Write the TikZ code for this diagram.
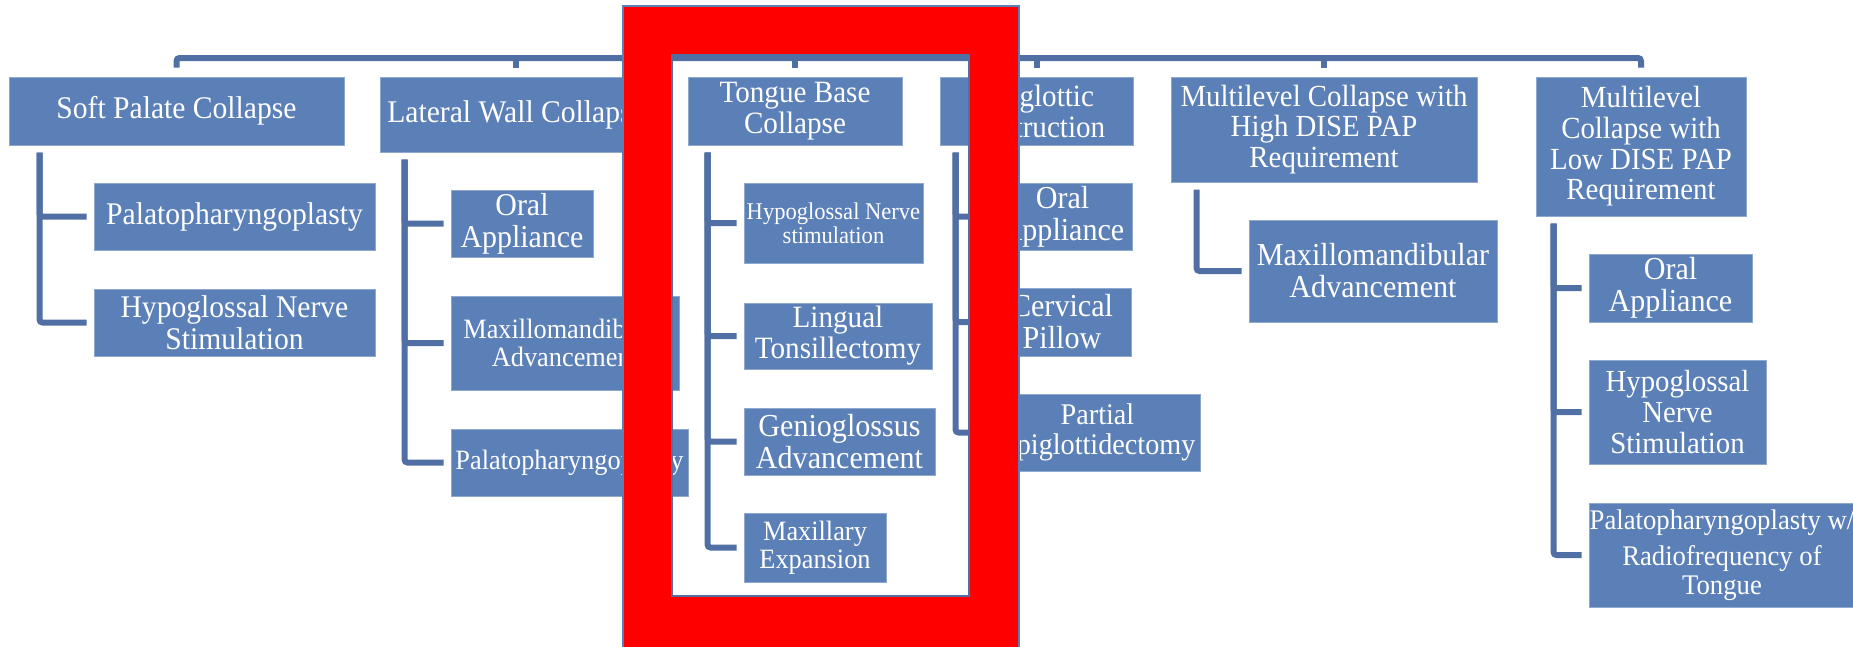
\documentclass[tikz,border=0pt]{standalone}
\usepackage{fontspec}
\setmainfont{Liberation Serif}[FakeStretch=0.94]
\definecolor{boxfill}{HTML}{5B7FB7}
\definecolor{boxedge}{HTML}{8FA8D0}
\definecolor{linecol}{HTML}{4F6FA5}
\definecolor{frameedge}{HTML}{5B7FB7}
\tikzset{
  box/.style={draw=boxedge, line width=1pt, fill=boxfill, text=white, align=center, inner sep=0pt},
  tsz/.style={font=\fontsize{#1}{#1}\selectfont},
  conn/.style={draw=linecol, line width=6pt, rounded corners=3pt},
  kid/.style={conn, shorten <=7pt, shorten >=7pt},
}
\begin{document}
\begin{tikzpicture}[x=1pt,y=-1pt]
\useasboundingbox (0,0) rectangle (1853,646);
\clip (0,0) rectangle (1853,646);
% level 1
\node[box, tsz=31.5, minimum width=335, minimum height=68] (A) at (176.5,111) {Soft Palate Collapse};
\node[box, tsz=31.5, minimum width=272, minimum height=75] (B) at (516,114.5) {Lateral Wall Collapse};
\node[box, tsz=31, minimum width=214, minimum height=68] (C) at (795,111) {Tongue Base\\Collapse};
\node[box, tsz=31, minimum width=193, minimum height=68] (D) at (1036.5,111) {Epiglottic\\Obstruction};
\node[box, tsz=30.7, minimum width=306, minimum height=105] (E) at (1324,129.5) {Multilevel Collapse with\\High DISE PAP\\Requirement};
\node[box, tsz=30.7, minimum width=210, minimum height=139] (F) at (1641,146.5) {Multilevel\\Collapse with\\Low DISE PAP\\Requirement};
% children
\node[box, tsz=31.5, minimum width=281, minimum height=67] (A1) at (234.5,216.5) {Palatopharyngoplasty};
\node[box, tsz=31.5, minimum width=281, minimum height=67] (A2) at (234.5,322.5) {Hypoglossal Nerve\\Stimulation};
\node[box, tsz=31.8, minimum width=142, minimum height=67] (B1) at (522,223.5) {Oral\\Appliance};
\node[box, tsz=28, minimum width=228, minimum height=94] (B2) at (565,343) {Maxillomandibular\\Advancement};
\node[box, tsz=28, minimum width=237, minimum height=67] (B3) at (569.5,462.5) {Palatopharyngoplasty};
\node[box, tsz=24, minimum width=179, minimum height=80] (C1) at (833.5,223) {Hypoglossal Nerve\\stimulation};
\node[box, tsz=31, minimum width=188, minimum height=66] (C2) at (838,336) {Lingual\\Tonsillectomy};
\node[box, tsz=32, minimum width=191, minimum height=67] (C3) at (839.5,441.5) {Genioglossus\\Advancement};
\node[box, tsz=28, minimum width=142, minimum height=69] (C4) at (815,547.5) {Maxillary\\Expansion};
\node[box, tsz=32, minimum width=139, minimum height=67] (D1) at (1062.5,216.5) {Oral\\Appliance};
\node[box, tsz=32, minimum width=138, minimum height=68] (D2) at (1062,322) {Cervical\\Pillow};
\node[box, tsz=30, minimum width=205, minimum height=77] (D3) at (1097.5,432.5) {Partial\\Epiglottidectomy};
\node[box, tsz=32, minimum width=248, minimum height=102] (E1) at (1373,271) {Maxillomandibular\\Advancement};
\node[box, tsz=32, minimum width=163, minimum height=68] (F1) at (1670.5,288) {Oral\\Appliance};
\node[box, tsz=30.6, minimum width=177, minimum height=104] (F2) at (1677.5,412) {Hypoglossal\\Nerve\\Stimulation};
\node[box, tsz=28.4, minimum width=266, minimum height=104] (F3) at (1722,555) {Palatopharyngoplasty w/\\[8pt]Radiofrequency of\\Tongue};
% top bar
\coordinate (bar) at (0,58);
\draw[conn, shorten <=9pt, shorten >=9pt] (A.north) -- (A.north |- bar) -| (F.north);
\foreach \n in {B,C,D,E}{
  \draw[conn, shorten >=9pt] (\n.north |- bar) -- (\n.north);
}
% child connectors
\draw[kid] ([xshift=31pt]A.south west) |- (A1.west);
\draw[kid] ([xshift=31pt]A.south west) |- (A2.west);
\draw[kid] ([xshift=25pt]B.south west) |- (B1.west);
\draw[kid] ([xshift=25pt]B.south west) |- (B2.west);
\draw[kid] ([xshift=25pt]B.south west) |- (B3.west);
\draw[kid] ([xshift=20pt]C.south west) |- (C1.west);
\draw[kid] ([xshift=20pt]C.south west) |- (C2.west);
\draw[kid] ([xshift=20pt]C.south west) |- (C3.west);
\draw[kid] ([xshift=20pt]C.south west) |- (C4.west);
\draw[kid] ([xshift=16pt]D.south west) |- (D1.west);
\draw[kid] ([xshift=16pt]D.south west) |- (D2.west);
\draw[kid] ([xshift=16pt]D.south west) |- (D3.west);
\draw[kid] ([xshift=26pt]E.south west) |- (E1.west);
\draw[kid] ([xshift=18pt]F.south west) |- (F1.west);
\draw[kid] ([xshift=18pt]F.south west) |- (F2.west);
\draw[kid] ([xshift=18pt]F.south west) |- (F3.west);
% red highlight frame
\fill[red, even odd rule] (623,6) rectangle (1019,660) (672,55) rectangle (969,596);
\draw[frameedge, line width=1.5pt] (623,6) rectangle (1019,660);
\draw[linecol, line width=2pt] (672,55) rectangle (969,596);
\end{tikzpicture}
\end{document}
